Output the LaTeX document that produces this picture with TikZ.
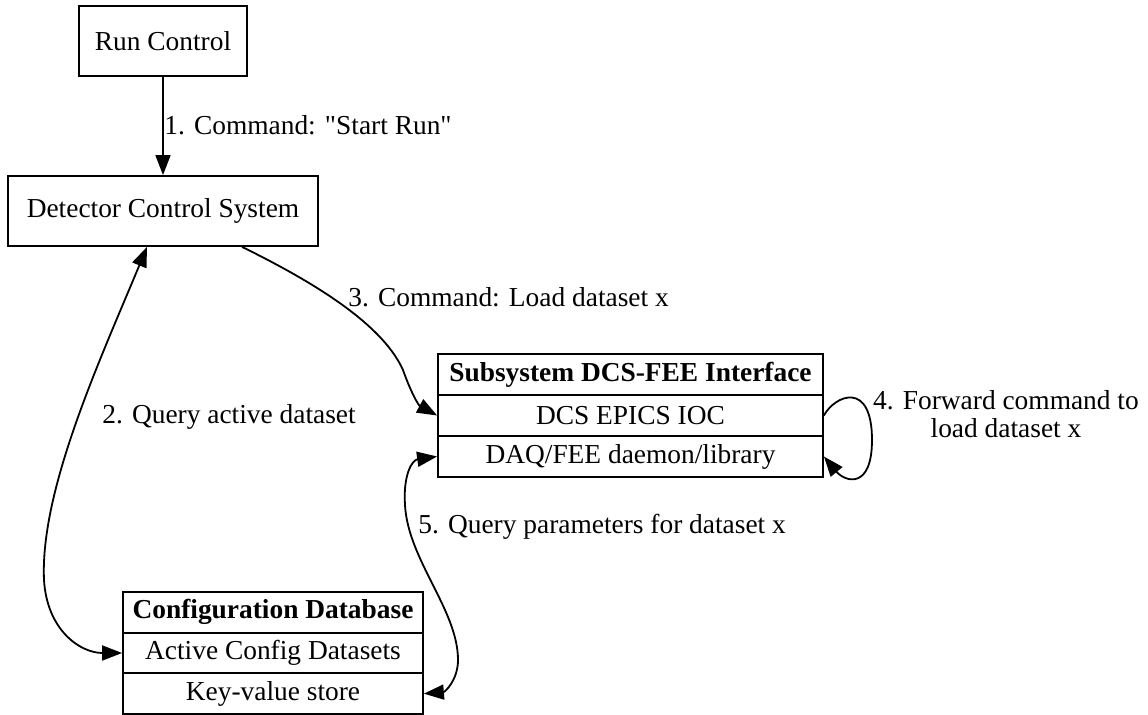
\documentclass[tikz,border=0pt]{standalone}
\usepackage{fontspec}
\setmainfont[Ligatures=TeXOff]{Liberation Serif}
\usetikzlibrary{arrows.meta,calc}
\begin{document}
\begin{tikzpicture}[x=0.5pt,y=-0.5pt,
  every node/.style={font=\fontsize{13.7pt}{14pt}\selectfont},
  box/.style={draw,line width=0.9pt,inner sep=0pt,rectangle},
  lbl/.style={inner sep=0pt},
  conn/.style={line width=0.9pt,-{Triangle[length=10pt,width=7.5pt]}},
  dconn/.style={line width=0.9pt,{Triangle[length=10pt,width=7.5pt]}-{Triangle[length=10pt,width=7.5pt]}}]
\useasboundingbox (0,0) rectangle (1148,715);
% plain boxes
\node[box,minimum width=84pt,minimum height=35pt] (rc) at (163,41) {Run Control};
\node[box,minimum width=155pt,minimum height=35pt] (dcs) at (163,211) {Detector Control System};
% Subsystem table
\node[box,minimum width=192.5pt,minimum height=20.5pt] (sub) at (630.5,374.5) {\bfseries Subsystem DCS-FEE Interface};
\node[box,minimum width=192.5pt,minimum height=20.5pt] (ioc) at (630.5,415.5) {DCS EPICS IOC};
\node[box,minimum width=192.5pt,minimum height=20.5pt] (daq) at (630.5,456.5) {DAQ/FEE daemon/library};
% Config DB table
\node[box,minimum width=150pt,minimum height=20.33pt] (cdb) at (273,612.3) {\bfseries Configuration Database};
\node[box,minimum width=150pt,minimum height=20.33pt] (cda) at (273,653) {Active Config Datasets};
\node[box,minimum width=150pt,minimum height=20.33pt] (kv) at (273,693.7) {Key-value store};
% edge end points on DCS bottom
\coordinate (dcsA) at ([xshift=-8pt]dcs.south);
\coordinate (dcsB) at ([xshift=39.5pt]dcs.south);
% edges
\draw[conn] (rc.south) -- (dcs.north);
\node[lbl,anchor=west] (l1) at (164,125) {1. Command: "Start Run"};
\draw[dconn] (dcsA) .. controls (100,360) and (40,490) .. (44,580)
  .. controls (47,630) and (80,653) .. (cda.west);
\node[lbl,anchor=west] (l2) at (102,417) {2. Query active dataset};
\draw[conn] (dcsB) .. controls (330,290) and (385,330) .. (403,370)
  .. controls (410,390) and (418,405) .. (ioc.west);
\node[lbl,anchor=west] (l3) at (348,297) {3. Command: Load dataset x};
\draw[conn] (ioc.east) .. controls (835,395) and (872,380) .. (872,440)
  .. controls (872,490) and (845,482) .. (daq.east);
\node[lbl,align=center] (l4) at (1006,414) {4. Forward command to\\load dataset x};
\draw[dconn] (daq.west) .. controls (412,460) and (403,475) .. (405,505)
  .. controls (408,560) and (458,610) .. (458,660)
  .. controls (458,680) and (445,692) .. (kv.east);
\node[lbl,anchor=west] (l5) at (418,527) {5. Query parameters for dataset x};
\end{tikzpicture}
\end{document}
